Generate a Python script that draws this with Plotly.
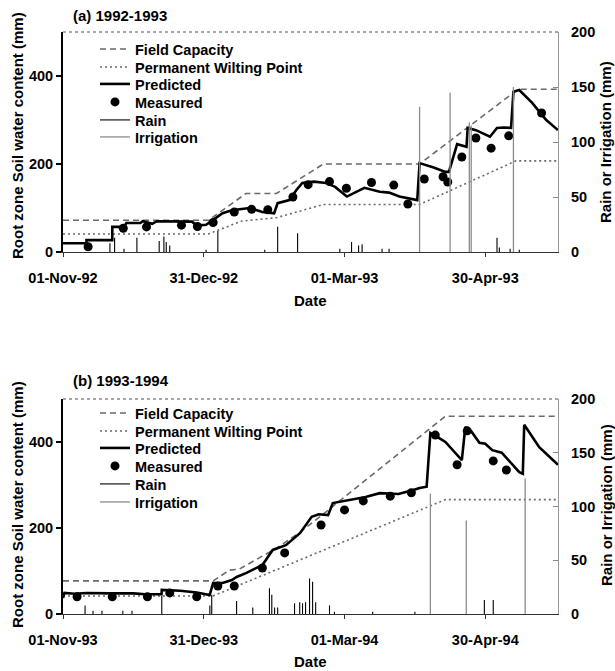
import plotly.graph_objects as go
import pandas as pd

# ---------------- Panel (a) 1992-1993 ----------------
start_a = "1992-11-01"
fc_a_day = [0, 62, 78, 91, 111, 152, 194, 211]
fc_a_val = [72, 72, 133, 133, 200, 200, 370, 370]
pwp_a_day = [0, 62, 76, 91, 111, 152, 193, 211]
pwp_a_val = [41, 41, 70, 78, 108, 108, 207, 207]
pred_a_day = [0, 10, 10, 21, 21, 26, 27, 33, 34, 38, 40, 50, 55, 57, 61, 64, 68, 72, 79.5, 85, 90, 91.5,
              96.5, 99.5, 102, 107, 112, 116, 121, 128.5, 135, 139, 143.4, 151, 152, 158, 163, 164.5,
              168, 172, 172.5, 176, 180, 182, 185, 188, 191, 192, 194.5, 200, 206, 211]
pred_a_val = [20, 20, 27, 27, 57, 57, 66, 66, 70, 64, 70, 70, 69, 60, 62, 73, 88, 95, 100, 91, 88, 111,
              118, 141, 157, 160, 157, 148, 126, 146, 137, 135, 126, 118, 202, 192, 182, 182,
              245, 239, 282, 277, 268, 262, 282, 283, 282, 364, 368, 339, 300, 277]
meas_a_day = [10.7, 25.7, 35.6, 50.5, 57.3, 64, 73, 80.4, 87.3, 98, 104.5, 113.6, 120.8, 131.5, 141,
              147, 154, 162, 164, 170, 176, 182.5, 190, 204]
meas_a_val = [12, 54, 57, 61, 58, 67, 91, 97, 96, 125, 153, 160, 145, 158, 152, 109, 166, 171, 159,
              216, 259, 236, 264, 316]
rain_a_day = [20, 22, 26, 31.5, 41, 43, 44, 45.5, 61, 66, 86, 91.5, 100, 118, 123, 126, 127.5, 136,
              139, 185, 186, 190.6, 194.5]
rain_a_val = [8, 13, 3, 13, 10, 14, 9, 6, 2, 19, 2, 23, 17, 3, 9, 6, 7, 3, 3, 13, 4, 3, 2]
irr_a_day = [152, 165, 173.2, 174, 192]
irr_a_val = [132, 145, 118, 115, 150]

# ---------------- Panel (b) 1993-1994 ----------------
start_b = "1993-11-01"
fc_b_day = [0, 64, 71, 75, 91, 101, 112, 163, 211]
fc_b_val = [77, 77, 102, 104, 153, 190, 237, 460, 460]
pwp_b_day = [0, 64, 163, 211]
pwp_b_val = [42, 42, 266, 266]
pred_b_day = [0, 0.6, 5, 10, 20, 30, 35, 42, 42.1, 50, 57, 62.5, 64, 68, 72, 74, 78, 85, 89.4, 95,
              101, 104, 106, 109, 113, 115, 122, 129, 135, 143, 149, 152, 155, 156.6, 160, 163,
              170, 171.5, 174, 177.5, 180, 183, 187, 194.5, 196, 196.6, 203, 211]
pred_b_val = [37, 49, 47, 49, 48, 48, 46, 46, 56, 54, 50, 44, 72, 72, 79, 86, 95, 114, 149, 160,
              188, 210, 226, 232, 230, 258, 265, 272, 281, 279, 288, 293, 296, 421, 410, 400,
              358, 435, 425, 398, 396, 381, 375, 330, 326, 440, 388, 347]
meas_b_day = [6, 21, 36, 45.5, 57, 66, 73, 85, 94.5, 110, 120, 128, 139.5, 148.5, 158.7, 168, 172.3,
              183.4, 189]
meas_b_val = [40, 40, 40, 49, 40, 65, 65, 107, 142, 207, 242, 263, 274, 282, 416, 347, 426, 356, 335]
rain_b_day = [9.4, 12.8, 16.6, 25.5, 29.4, 42.1, 62.6, 63.4, 74, 80.9, 88, 89, 90.2, 91.5, 98.7,
              100.9, 102.1, 103.4, 105.1, 106.4, 107.7, 113.6, 115.7, 132, 150, 179.6, 183.4]
rain_b_val = [8, 3, 3, 3, 3, 17, 8, 18, 12, 6, 24, 18, 6, 6, 10, 11, 10, 11, 33, 30, 11, 8, 2, 2,
              2, 13, 13]
irr_b_day = [156.6, 171.9, 197]
irr_b_val = [112, 87, 126]

# ---------------- Axis labelling ----------------
tick_days = [0, 60, 120, 180]
ticks_a = ["01-Nov-92", "31-Dec-92", "01-Mar-93", "30-Apr-93"]
ticks_b = ["01-Nov-93", "31-Dec-93", "01-Mar-94", "30-Apr-94"]
series_names = ["Field Capacity", "Permanent Wilting Point", "Predicted", "Measured", "Rain",
                "Irrigation"]
span_days = 211

FONT = "Liberation Sans, Arial, sans-serif"
H = 671.0
W_PLOT = 495.0


def to_dates(start, days):
    s = pd.Timestamp(start)
    return [s + pd.Timedelta(days=d) for d in days]


def segs(start, days, vals):
    xs, ys = [], []
    for t, v in zip(to_dates(start, days), vals):
        xs += [t, t, None]
        ys += [0, v, None]
    return xs, ys


fig = go.Figure()


def add_panel(start, fc_d, fc_v, pwp_d, pwp_v, pr_d, pr_v, me_d, me_v, ra_d, ra_v, ir_d, ir_v,
              xa, ya, ya2, legs):
    rx, ry = segs(start, ra_d, ra_v)
    ix, iy = segs(start, ir_d, ir_v)
    fig.add_trace(go.Scatter(x=rx, y=ry, mode="lines", name=series_names[4],
                             line=dict(color="black", width=1.1),
                             xaxis=xa, yaxis=ya2, legend=legs[4]))
    fig.add_trace(go.Scatter(x=ix, y=iy, mode="lines", name=series_names[5],
                             line=dict(color="#8c8c8c", width=1.3),
                             xaxis=xa, yaxis=ya2, legend=legs[5]))
    fig.add_trace(go.Scatter(x=to_dates(start, fc_d), y=fc_v, mode="lines", name=series_names[0],
                             line=dict(color="#6a6a6a", width=1.6, dash="6px,4px"),
                             xaxis=xa, yaxis=ya, legend=legs[0]))
    fig.add_trace(go.Scatter(x=to_dates(start, pwp_d), y=pwp_v, mode="lines", name=series_names[1],
                             line=dict(color="#6a6a6a", width=1.6, dash="2px,3px"),
                             xaxis=xa, yaxis=ya, legend=legs[1]))
    fig.add_trace(go.Scatter(x=to_dates(start, pr_d), y=pr_v, mode="lines", name=series_names[2],
                             line=dict(color="black", width=2.6),
                             xaxis=xa, yaxis=ya, legend=legs[2]))
    fig.add_trace(go.Scatter(x=to_dates(start, me_d), y=me_v, mode="markers", name=series_names[3],
                             marker=dict(color="black", size=9),
                             xaxis=xa, yaxis=ya, legend=legs[3]))


legs_a = ["legend"] + ["legend%d" % i for i in range(2, 7)]
legs_b = ["legend%d" % i for i in range(7, 13)]

add_panel(start_a, fc_a_day, fc_a_val, pwp_a_day, pwp_a_val, pred_a_day, pred_a_val,
          meas_a_day, meas_a_val, rain_a_day, rain_a_val, irr_a_day, irr_a_val,
          "x", "y", "y2", legs_a)
add_panel(start_b, fc_b_day, fc_b_val, pwp_b_day, pwp_b_val, pred_b_day, pred_b_val,
          meas_b_day, meas_b_val, rain_b_day, rain_b_val, irr_b_day, irr_b_val,
          "x2", "y3", "y4", legs_b)

dom_a = [1 - 252 / H, 1 - 32 / H]
dom_b = [1 - 614 / H, 1 - 399 / H]

tickfont = dict(family=FONT, size=14.5, color="black", weight="bold")


def xaxis(start, labels, anchor):
    return dict(domain=[0, 1], anchor=anchor, type="date",
                range=[pd.Timestamp(start), pd.Timestamp(start) + pd.Timedelta(days=span_days)],
                tickvals=to_dates(start, tick_days), ticktext=labels, tickfont=tickfont,
                ticks="outside", ticklen=4, tickcolor="#333", showgrid=False, zeroline=False,
                showline=True, linecolor="#333", linewidth=1.4, ticklabelstandoff=8,
                automargin=False)


def yleft(dom, anchor):
    return dict(domain=dom, anchor=anchor, range=[0, 500], tickvals=[0, 200, 400],
                tickfont=tickfont, ticks="outside", ticklen=5, tickcolor="black", tickwidth=1.5,
                showgrid=False, zeroline=False, showline=True, linecolor="black", linewidth=2,
                automargin=False)


def yright(over, anchor):
    return dict(overlaying=over, anchor=anchor, side="right", range=[0, 200],
                tickvals=[0, 50, 100, 150, 200], tickfont=tickfont, ticks="inside", ticklen=5,
                tickcolor="#888", showgrid=False, zeroline=False, showline=True,
                linecolor="#999", linewidth=1.2, ticklabelstandoff=9, automargin=False)


legfont = dict(family=FONT, size=14.5, color="black", weight="bold")
rows_a = [49, 67, 84, 102, 120, 137]
rows_b = [413, 431, 448, 466, 484, 502]
legend_layout = {}
for names, rows in ((legs_a, rows_a), (legs_b, rows_b)):
    for lg, r in zip(names, rows):
        legend_layout[lg] = dict(x=(95 - 63) / W_PLOT, y=1 - r / H, xanchor="left",
                                 yanchor="middle", bgcolor="rgba(0,0,0,0)", font=legfont,
                                 itemwidth=30, borderwidth=0)

fig.update_layout(
    width=615, height=671,
    margin=dict(l=63, r=57, t=0, b=0, autoexpand=False),
    paper_bgcolor="white", plot_bgcolor="white",
    font=dict(family=FONT, size=14, color="black"),
    xaxis=xaxis(start_a, ticks_a, "y"),
    yaxis=yleft(dom_a, "x"),
    yaxis2=yright("y", "x"),
    xaxis2=xaxis(start_b, ticks_b, "y3"),
    yaxis3=yleft(dom_b, "x2"),
    yaxis4=yright("y3", "x2"),
    showlegend=True,
    **legend_layout,
)

# dotted grey top borders
for xref, yref in (("x domain", "y domain"), ("x2 domain", "y3 domain")):
    fig.add_shape(type="line", xref=xref, yref=yref, x0=0, x1=1, y0=1, y1=1,
                  line=dict(color="#8a8a8a", width=1.3, dash="dot"))

ann_font = dict(family=FONT, size=15, color="black", weight="bold")
annos = [
    ("(a) 1992-1993", (71 - 63) / W_PLOT, 1 - 15 / H, 0, "left"),
    ("(b) 1993-1994", (71 - 63) / W_PLOT, 1 - 380 / H, 0, "left"),
    ("Date", (310 - 63) / W_PLOT, 1 - 301 / H, 0, "center"),
    ("Date", (310 - 63) / W_PLOT, 1 - 661 / H, 0, "center"),
    ("Root zone Soil water content (mm)", (17 - 63) / W_PLOT, 1 - 136 / H, -90, "center"),
    ("Root zone Soil water content (mm)", (17 - 63) / W_PLOT, 1 - 505 / H, -90, "center"),
    ("Rain or Irrigation (mm)", (606 - 63) / W_PLOT, 1 - 142 / H, -90, "center"),
    ("Rain or Irrigation (mm)", (606 - 63) / W_PLOT, 1 - 505 / H, -90, "center"),
]
for text, x, y, ang, xa in annos:
    fig.add_annotation(text=text, x=x, y=y, xref="paper", yref="paper", showarrow=False,
                       textangle=ang, xanchor=xa, yanchor="middle", font=ann_font)

fig.write_html("out.html")
